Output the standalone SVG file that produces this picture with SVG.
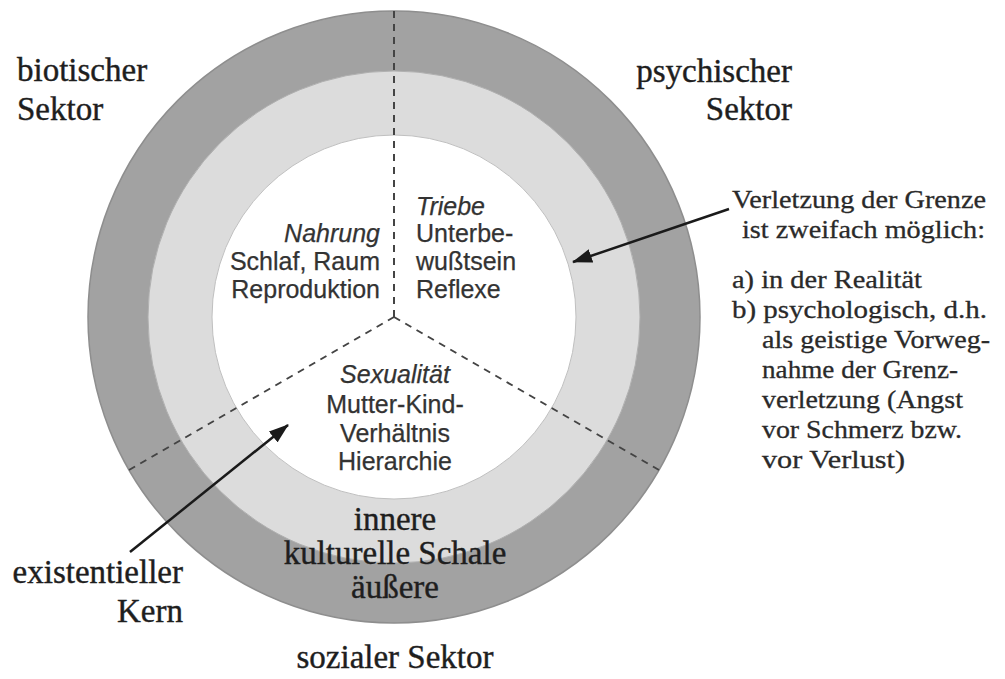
<svg xmlns="http://www.w3.org/2000/svg" width="1005" height="679" viewBox="0 0 1005 679">
<defs>
<marker id="ah" markerUnits="userSpaceOnUse" markerWidth="20" markerHeight="14" refX="19" refY="7" orient="auto" viewBox="0 0 20 14">
<path d="M0,0 L20,7 L0,14 Z" fill="#1a1a1a"/>
</marker>
</defs>
<style>
.big{font-family:"Liberation Serif","Times New Roman",serif;font-size:33px;fill:#1e1e1e;stroke:#1e1e1e;stroke-width:0.4}
.note{font-family:"Liberation Serif","Times New Roman",serif;font-size:26px;fill:#2a2a2a;stroke:#2a2a2a;stroke-width:0.3}
.sans{font-family:"Liberation Sans",Arial,sans-serif;font-size:25px;fill:#333;stroke:#333;stroke-width:0.25}
.it{font-style:italic}
.dash{stroke:#444;stroke-width:2;stroke-dasharray:7 6;fill:none}
.arrow{stroke:#1a1a1a;stroke-width:2.5;fill:none;marker-end:url(#ah)}
</style>
<rect width="1005" height="679" fill="#fff"/>
<g id="outer-shell"><circle cx="394" cy="317" r="306" fill="#a2a2a2" stroke="#8e8e8e" stroke-width="1.5"/></g>
<g id="inner-shell"><circle cx="394" cy="317" r="246" fill="#dcdcdc" stroke="#b0b0b0" stroke-width="1"/></g>
<g id="core"><circle cx="394" cy="317" r="182" fill="#ffffff" stroke="#c0c0c0" stroke-width="1"/></g>
<g id="sector-lines">
<line class="dash" x1="394" y1="11" x2="394" y2="317"/>
<line class="dash" x1="394" y1="317" x2="129" y2="470"/>
<line class="dash" x1="394" y1="317" x2="659" y2="470"/>
</g>
<g id="biotic-core">
<text class="sans it" x="380" y="242" text-anchor="end">Nahrung</text>
<text class="sans" x="380" y="270" text-anchor="end">Schlaf, Raum</text>
<text class="sans" x="380" y="298" text-anchor="end">Reproduktion</text>
</g>
<g id="psychic-core">
<text class="sans it" x="416" y="215">Triebe</text>
<text class="sans" x="416" y="242">Unterbe-</text>
<text class="sans" x="416" y="270">wußtsein</text>
<text class="sans" x="416" y="298">Reflexe</text>
</g>
<g id="social-core">
<text class="sans it" x="395" y="383" text-anchor="middle">Sexualität</text>
<text class="sans" x="395" y="413" text-anchor="middle">Mutter-Kind-</text>
<text class="sans" x="395" y="442" text-anchor="middle">Verhältnis</text>
<text class="sans" x="395" y="470" text-anchor="middle">Hierarchie</text>
</g>
<g id="shell-label">
<text class="big" x="395" y="530" text-anchor="middle">innere</text>
<text class="big" x="395" y="564" text-anchor="middle">kulturelle Schale</text>
<text class="big" x="395" y="598" text-anchor="middle">äußere</text>
</g>
<g id="biotic-sector">
<text class="big" x="17" y="81">biotischer</text>
<text class="big" x="17" y="120">Sektor</text>
</g>
<g id="psychic-sector">
<text class="big" x="792" y="82" text-anchor="end">psychischer</text>
<text class="big" x="792" y="120" text-anchor="end">Sektor</text>
</g>
<g id="social-sector">
<text class="big" x="395" y="668" text-anchor="middle">sozialer Sektor</text>
</g>
<g id="core-label">
<text class="big" x="183" y="583" text-anchor="end">existentieller</text>
<text class="big" x="183" y="622" text-anchor="end">Kern</text>
</g>
<g id="violation-note">
<text class="note" x="732" y="208" textLength="254" lengthAdjust="spacingAndGlyphs">Verletzung der Grenze</text>
<text class="note" x="742" y="238" textLength="243" lengthAdjust="spacingAndGlyphs">ist zweifach möglich:</text>
<text class="note" x="732" y="288" textLength="190" lengthAdjust="spacingAndGlyphs">a) in der Realität</text>
<text class="note" x="732" y="318" textLength="255" lengthAdjust="spacingAndGlyphs">b) psychologisch, d.h.</text>
<text class="note" x="762" y="348" textLength="228" lengthAdjust="spacingAndGlyphs">als geistige Vorweg-</text>
<text class="note" x="762" y="378" textLength="196" lengthAdjust="spacingAndGlyphs">nahme der Grenz-</text>
<text class="note" x="762" y="408" textLength="201" lengthAdjust="spacingAndGlyphs">verletzung (Angst</text>
<text class="note" x="762" y="438" textLength="200" lengthAdjust="spacingAndGlyphs">vor Schmerz bzw.</text>
<text class="note" x="762" y="468" textLength="143" lengthAdjust="spacingAndGlyphs">vor Verlust)</text>
</g>
<g id="connectors">
<line class="arrow" x1="729" y1="209" x2="573" y2="262"/>
<line class="arrow" x1="130" y1="552" x2="288" y2="425"/>
</g>
</svg>
